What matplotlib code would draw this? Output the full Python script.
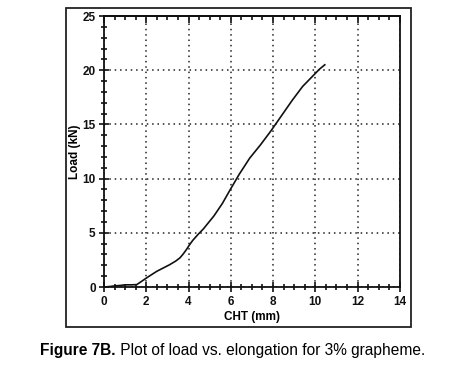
import matplotlib
matplotlib.use("Agg")
import matplotlib.pyplot as plt
from matplotlib.patches import Rectangle
from matplotlib.ticker import MultipleLocator

plt.rcParams['font.family'] = ['Liberation Sans', 'DejaVu Sans']

# load-elongation curve
cht_mm = [0.0, 0.3, 0.5, 0.8, 1.0, 1.3, 1.55, 1.8, 2.1, 2.5, 2.8, 3.1, 3.4,
          3.6, 3.75, 3.9, 4.05, 4.2, 4.45, 4.7, 4.95, 5.2, 5.6, 5.95, 6.4,
          6.9, 7.4, 7.9, 8.4, 8.9, 9.4, 9.95, 10.2, 10.45]
load_kn = [0.0, 0.05, 0.1, 0.15, 0.2, 0.2, 0.22, 0.55, 0.95, 1.45, 1.75, 2.05,
           2.4, 2.7, 3.05, 3.45, 3.9, 4.3, 4.85, 5.35, 5.95, 6.55, 7.7, 8.9, 10.4,
           11.9, 13.1, 14.4, 15.8, 17.2, 18.5, 19.6, 20.1, 20.5]

x_ticks = [0, 2, 4, 6, 8, 10, 12, 14]
y_ticks = [0, 5, 10, 15, 20, 25]

fig = plt.figure(figsize=(4.57, 3.76), dpi=100)
ax = fig.add_axes([0.2276, 0.2367, 0.6472, 0.7207])

# outer frame round the chart
fig.patches.append(Rectangle((0.1444, 0.1303), 0.755, 0.848, transform=fig.transFigure,
                             fill=False, edgecolor='#222222', linewidth=1.3))

ax.plot(cht_mm, load_kn, color='#111111', linewidth=1.2)

ax.set_xlim(0, 14)
ax.set_ylim(0, 25)
ax.set_xticks(x_ticks)
ax.set_yticks(y_ticks)
ax.xaxis.set_minor_locator(MultipleLocator(0.5))
ax.yaxis.set_minor_locator(MultipleLocator(1))
ax.grid(True, which='major', linestyle=(0, (1, 2.5)), color='#222222', linewidth=1.1)

ax.tick_params(which='both', direction='inout', top=False, right=False, width=1.2,
               labelsize=8.5, colors='#111111')
ax.tick_params(which='major', length=7)
ax.tick_params(which='minor', length=4)
ax.tick_params(axis='x', pad=3)
ax.tick_params(axis='y', pad=2.5)
for lab in ax.get_xticklabels() + ax.get_yticklabels():
    lab.set_fontweight('bold')
for s in ax.spines.values():
    s.set_linewidth(1.3)
    s.set_color('#111111')

# ticks along the top edge point inwards only
top = ax.secondary_xaxis('top')
top.set_xticks(x_ticks)
top.xaxis.set_minor_locator(MultipleLocator(0.5))
top.tick_params(which='both', direction='in', labeltop=False, width=1.2, colors='#111111')
top.tick_params(which='major', length=5)
top.tick_params(which='minor', length=3)
top.spines['top'].set_linewidth(1.3)

ax.set_xlabel('CHT (mm)', fontsize=8.5, fontweight='bold', labelpad=2)
ax.set_ylabel('Load (kN)', fontsize=8.5, fontweight='bold', labelpad=1)

cap = fig.text(0.088, 0.055, 'Figure 7B.', fontsize=11.2, fontweight='bold', va='baseline')
fig.canvas.draw()
ax.annotate(' Plot of load vs. elongation for 3% grapheme.', xy=(1, 0), xycoords=cap,
            fontsize=11.2, va='bottom', ha='left')

fig.savefig('out.png', dpi=100)
